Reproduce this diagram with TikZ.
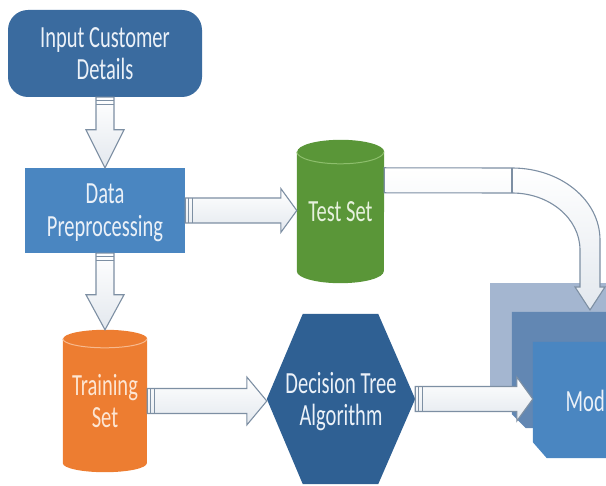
\documentclass[tikz,border=0pt]{standalone}
\usepackage{fontspec}
\setmainfont{Carlito}
\usetikzlibrary{calc}
\pgfdeclarelayer{bg}
\pgfsetlayers{bg,main}
\definecolor{inblue}{HTML}{3A6B9F}
\definecolor{dpblue}{HTML}{4A86C1}
\definecolor{dtblue}{HTML}{2F6093}
\definecolor{tgreen}{HTML}{5A9638}
\definecolor{tgreenl}{HTML}{8DBE6C}
\definecolor{torange}{HTML}{ED7D31}
\definecolor{torangel}{HTML}{F7B98E}
\definecolor{mback}{HTML}{A4B6D0}
\definecolor{mmid}{HTML}{6287B3}
\definecolor{mfront}{HTML}{4A86C1}
\definecolor{arrline}{HTML}{7D8FA3}
\definecolor{arrfill}{HTML}{E3E8EE}
\definecolor{txtlight}{HTML}{EBF1F8}
\definecolor{txtgreen}{HTML}{E6F1DD}
\definecolor{txtorange}{HTML}{FDE6D3}
\newcommand\tx[1]{\scalebox{1}[1.5]{#1}}
\tikzset{
 lbl/.style={font=\fontsize{20.5}{32}\selectfont, text=txtlight, align=center, inner sep=0pt, text depth=0pt},
 blockarr/.style={draw=arrline, line width=1.1pt, top color=white, bottom color=arrfill, line join=miter},
 stripe/.style={draw=arrline, line width=0.9pt},
}
\newcommand\harrow[4]{%
 \path[blockarr] let \p1=(#1), \p2=(#2) in
  (\x1,\y1+12.5pt) -- (\x2-#4,\y1+12.5pt) -- (\x2-#4,\y1+#3) -- (\x2,\y1)
  -- (\x2-#4,\y1-#3) -- (\x2-#4,\y1-12.5pt) -- (\x1,\y1-12.5pt) -- cycle;
 \path[stripe] let \p1=(#1) in (\x1+3pt,\y1+12.5pt) -- (\x1+3pt,\y1-12.5pt)
  (\x1+7pt,\y1+12.5pt) -- (\x1+7pt,\y1-12.5pt);
}
\newcommand\varrow[4]{%
 \path[blockarr] let \p1=(#1), \p2=(#2) in
  (\x1-9pt,\y1) -- (\x1-9pt,\y2+#4) -- (\x1-#3,\y2+#4) -- (\x1,\y2)
  -- (\x1+#3,\y2+#4) -- (\x1+9pt,\y2+#4) -- (\x1+9pt,\y1) -- cycle;
 \path[stripe] let \p1=(#1) in (\x1-9pt,\y1-3pt) -- (\x1+9pt,\y1-3pt)
  (\x1-9pt,\y1-7pt) -- (\x1+9pt,\y1-7pt);
}
\begin{document}
\begin{tikzpicture}[x=1pt,y=-1pt]
\useasboundingbox (0,0) rectangle (606,486);
\clip (0,0) rectangle (606,486);
% nodes
\node[lbl, minimum width=194pt, minimum height=87pt, fill=inblue, rounded corners=20pt] (in) at (105,53.5) {\tx{Input Customer}\\\tx{Details}};
\node[lbl, minimum width=160pt, minimum height=85pt, fill=dpblue] (dp) at (105,210.5) {\tx{Data}\\[1pt]\tx{Preprocessing}};
\node[lbl, minimum width=87pt, minimum height=143pt, text=txtgreen] (test) at (340.5,211.5) {\tx{Test Set}};
\node[lbl, minimum width=84pt, minimum height=142pt, text=txtorange] (train) at (105,401) {\tx{Training}\\\tx{Set}};
\node[lbl, minimum width=148pt, minimum height=170pt] (dt) at (341,399) {\tx{Decision Tree}\\\tx{Algorithm}};
\node[minimum width=128pt, minimum height=116pt, inner sep=0pt] (model) at (597,400) {};
\node[lbl, anchor=west] (modeltext) at (565.5,401) {\tx{Mod}};
% shapes behind the texts
\begin{pgfonlayer}{bg}
 \fill[tgreen] let \p1=(test.north west), \p2=(test.south east) in
  (\x1,\y1-12pt) -- (\x1,\y2+12pt) arc[start angle=180,end angle=360,x radius=43.5pt,y radius=12pt]
  -- (\x2,\y1-12pt) arc[start angle=0,end angle=180,x radius=43.5pt,y radius=12pt] -- cycle;
 \draw[tgreenl, line width=1pt] let \p1=(test.north west) in
  (\x1,\y1-12pt) arc[start angle=180,end angle=360,x radius=43.5pt,y radius=12pt];
 \fill[torange] let \p1=(train.north west), \p2=(train.south east) in
  (\x1,\y1-9pt) -- (\x1,\y2+9pt) arc[start angle=180,end angle=360,x radius=42pt,y radius=9pt]
  -- (\x2,\y1-9pt) arc[start angle=0,end angle=180,x radius=42pt,y radius=9pt] -- cycle;
 \draw[torangel, line width=1pt] let \p1=(train.north west) in
  (\x1,\y1-9pt) arc[start angle=180,end angle=360,x radius=42pt,y radius=9pt];
 \fill[dtblue] (dt.west) -- ($(dt.north west)+(36,0)$) -- ($(dt.north east)+(-37,0)$) -- (dt.east)
  -- ($(dt.south east)+(-37,0)$) -- ($(dt.south west)+(36,0)$) -- cycle;
 \fill[mback] ($(model.north west)+(-43,-59)$) rectangle ($(model.south east)+(-43,-59)$);
 \fill[mmid] ($(model.north west)+(-21,-30)$) -- ($(model.north east)+(-21,-30)$) -- ($(model.south east)+(-21,-30)$)
  -- ($(model.south west)+(-7,-30)$) -- ($(model.south west)+(-21,-44)$) -- cycle;
 \fill[mfront] (model.north west) -- (model.north east) -- (model.south east)
  -- ($(model.south west)+(14,0)$) -- ($(model.south west)+(0,-16)$) -- cycle;
\end{pgfonlayer}
% connectors
\varrow{in.south}{dp.north}{19pt}{38pt}
\varrow{dp.south}{train.north}{19pt}{35pt}
\harrow{dp.east}{test.west}{22pt}{16pt}
\harrow{train.east}{dt.west}{24pt}{20pt}
\harrow{dt.east}{model.west}{22pt}{16pt}
\coordinate (c0) at ($(test.north east)+(0,28)$);
\coordinate (c1) at ($(test.north east)+(0,53)$);
\path[blockarr] (c0) -- (512,168) .. controls (560.6,168) and (600,200) .. (600,240)
  -- (600,287) -- (605,287) -- (590,310) -- (575,287) -- (580,287) -- (580,250)
  .. controls (580,218.5) and (549.5,193) .. (512,193) -- (c1) -- cycle;
\draw[arrline, line width=1.1pt] (512,168) -- (512,193);
\end{tikzpicture}
\end{document}
